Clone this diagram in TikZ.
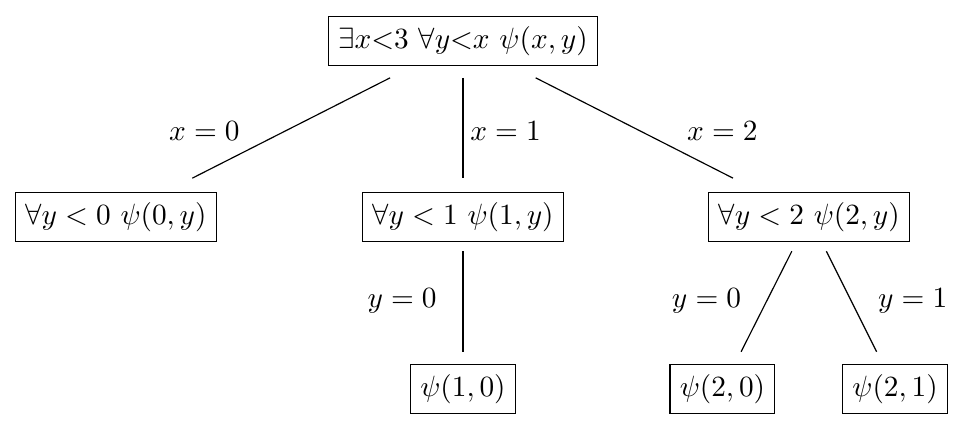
\documentclass[tikz,border=0pt]{standalone}
\usetikzlibrary{calc}
\tikzset{box/.style={draw, inner sep=3.33pt}}
\begin{document}
\begin{tikzpicture}
		\useasboundingbox (0,0) rectangle (11.58,-5.156);
		\node[box] (root) at (5.55,-0.49) {$\exists x{<}3\ \forall y{<}x\ \psi(x,y)$};
		\node[box] (L) at (1.39,-2.60) {$\forall y<0\ \psi(0,y)$};
		\node[box] (M) at (5.55,-2.60) {$\forall y<1\ \psi(1,y)$};
		\node[box] (R) at (9.70,-2.60) {$\forall y<2\ \psi(2,y)$};
		\node[box] (M0) at (5.55,-4.66) {$\psi(1,0)$};
		\node[box] (R0) at (8.66,-4.66) {$\psi(2,0)$};
		\node[box] (R1) at (10.73,-4.66) {$\psi(2,1)$};
		\draw ($(root)!0.21!(L)$) -- ($(root)!0.78!(L)$);
		\draw ($(root)!0.21!(M)$) -- ($(root)!0.78!(M)$);
		\draw ($(root)!0.21!(R)$) -- ($(root)!0.78!(R)$);
		\draw ($(M)!0.2!(M0)$) -- ($(M)!0.785!(M0)$);
		\draw ($(R)!0.2!(R0)$) -- ($(R)!0.785!(R0)$);
		\draw ($(R)!0.2!(R1)$) -- ($(R)!0.785!(R1)$);
		\node (x0) at (2.45,-1.57) {$x=0$};
		\node (x1) at (6.06,-1.57) {$x=1$};
		\node (x2) at (8.66,-1.57) {$x=2$};
		\node (y10) at (4.82,-3.61) {$y=0$};
		\node (y20) at (8.47,-3.61) {$y=0$};
		\node (y21) at (10.94,-3.61) {$y=1$};
	%
	\end{tikzpicture}
\end{document}
